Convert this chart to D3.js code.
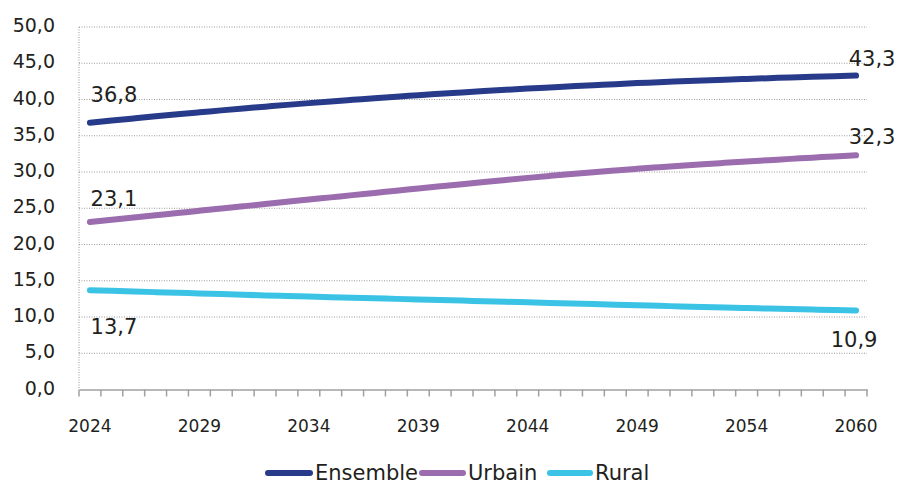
<!DOCTYPE html>
<html><head><meta charset="utf-8">
<script src="https://cdn.jsdelivr.net/npm/d3@7"></script>
<style>
html,body{margin:0;padding:0;background:#fff;}
svg{display:block;font-family:"DejaVu Sans",sans-serif;}
</style></head>
<body>
<svg id="chart" width="897" height="484"></svg>
<script>
// ---- data ----
const categories = ["2024","2025","2026","2027","2028","2029","2030","2031","2032","2033","2034","2035",
  "2036","2037","2038","2039","2040","2041","2042","2043","2044","2045","2046","2047","2048","2049",
  "2050","2051","2052","2053","2054","2055","2056","2057","2058","2060"];
const tickLabels = ["2024","2029","2034","2039","2044","2049","2054","2060"];
const yTicks = [0,5,10,15,20,25,30,35,40,45,50];
const seriesNames = ["Ensemble","Urbain","Rural"];
const ensemble = [36.80,37.10,37.39,37.68,37.96,38.23,38.50,38.76,39.01,39.26,39.50,39.73,39.95,40.17,
  40.38,40.59,40.79,40.98,41.16,41.34,41.51,41.67,41.83,41.98,42.12,42.26,42.39,42.51,42.63,42.74,
  42.84,42.94,43.04,43.13,43.22,43.30];
const urbain = [23.10,23.41,23.72,24.03,24.34,24.65,24.96,25.27,25.58,25.89,26.20,26.50,26.81,27.11,
  27.42,27.72,28.02,28.32,28.62,28.91,29.19,29.46,29.72,29.97,30.21,30.44,30.66,30.87,31.07,31.26,
  31.45,31.63,31.81,31.98,32.15,32.30];
const rural = [13.70,13.61,13.52,13.43,13.34,13.25,13.16,13.07,12.98,12.90,12.82,12.74,12.66,12.58,
  12.50,12.42,12.34,12.26,12.18,12.10,12.02,11.94,11.86,11.78,11.70,11.62,11.54,11.46,11.38,11.30,
  11.23,11.16,11.09,11.02,10.96,10.90];

// ---- styling / layout ----
const colors = ["#273b8a","#9b6cae","#3bc3e6"];
const labelOffsets = [ // [start dx, start dy, end dx, end dy]
  [24,-21, 16,-10],
  [24,-16, 16,-11],
  [24, 44, -2, 37]
];
const svg = d3.select("#chart");
const plotLeft = 79, plotRight = 867, plotTop = 27, plotBottom = 389.5;
const fmt = v => d3.format(".1f")(v).replace(".", ",");

const x = d3.scaleBand().domain(categories).range([plotLeft, plotRight]).padding(0);
const y = d3.scaleLinear().domain([0, 50]).range([plotBottom, plotTop]);
const cx = c => x(c) + x.bandwidth() / 2;
const textColor = "#231f20";

// gridlines
svg.append("g").selectAll("line").data(yTicks.filter(d => d > 0)).join("line")
  .attr("x1", plotLeft).attr("x2", plotRight)
  .attr("y1", d => y(d)).attr("y2", d => y(d))
  .attr("stroke", "#9a9a9a").attr("stroke-width", 1).attr("stroke-dasharray", "1,1.5");
// vertical dotted axis
svg.append("line").attr("x1", plotLeft).attr("x2", plotLeft).attr("y1", plotTop).attr("y2", plotBottom)
  .attr("stroke", "#9a9a9a").attr("stroke-width", 1).attr("stroke-dasharray", "1,1.5");

// y labels
svg.append("g").selectAll("text").data(yTicks).join("text")
  .attr("x", 55).attr("y", d => y(d) + 5)
  .attr("text-anchor", "end").attr("font-size", 19).attr("fill", textColor)
  .text(d => fmt(d));

// x axis
const xAxis = d3.axisBottom(x).tickValues([]).tickSize(0).tickSizeOuter(0);
const gx = svg.append("g").attr("transform", `translate(0,${plotBottom})`).call(xAxis);
gx.select(".domain").attr("stroke", "#a0a0a0").attr("stroke-width", 1.5);
const boundaries = categories.map(c => x(c)).concat([plotRight]);
gx.append("g").selectAll("line").data(boundaries).join("line")
  .attr("x1", d => d).attr("x2", d => d).attr("y1", 0).attr("y2", 7)
  .attr("stroke", "#a0a0a0").attr("stroke-width", 1.5);
const labeledIdx = tickLabels.map(t => categories.indexOf(t));
svg.append("g").selectAll("text").data(labeledIdx).join("text")
  .attr("x", i => cx(categories[i])).attr("y", 432)
  .attr("text-anchor", "middle").attr("font-size", 17).attr("fill", textColor)
  .text(i => categories[i]);

// lines
const seriesData = [ensemble, urbain, rural];
const line = d3.line().x((d, i) => cx(categories[i])).y(d => y(d)).curve(d3.curveMonotoneX);
seriesData.forEach((s, k) => {
  svg.append("path").attr("d", line(s)).attr("fill", "none")
    .attr("stroke", colors[k]).attr("stroke-width", 6)
    .attr("stroke-linecap", "round").attr("stroke-linejoin", "round");
  const n = s.length - 1;
  const o = labelOffsets[k];
  svg.append("text").attr("x", cx(categories[0]) + o[0]).attr("y", y(s[0]) + o[1])
    .attr("text-anchor", "middle").attr("font-size", 21).attr("fill", textColor).text(fmt(s[0]));
  svg.append("text").attr("x", cx(categories[n]) + o[2]).attr("y", y(s[n]) + o[3])
    .attr("text-anchor", "middle").attr("font-size", 21).attr("fill", textColor).text(fmt(s[n]));
});

// legend
const legendItems = [
  {x1: 268, x2: 310, tx: 315},
  {x1: 422, x2: 463, tx: 468},
  {x1: 550, x2: 590, tx: 595}
];
seriesNames.forEach((name, k) => {
  const L = legendItems[k];
  svg.append("line").attr("x1", L.x1).attr("x2", L.x2).attr("y1", 473).attr("y2", 473)
    .attr("stroke", colors[k]).attr("stroke-width", 6).attr("stroke-linecap", "round");
  svg.append("text").attr("x", L.tx).attr("y", 480).attr("font-size", 21)
    .attr("fill", textColor).text(name);
});
</script>
</body></html>
